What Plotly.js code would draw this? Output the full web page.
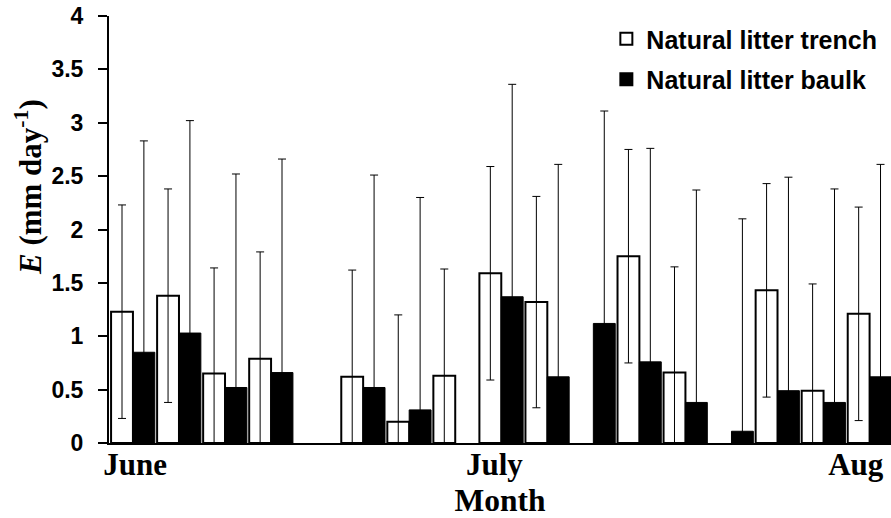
<!DOCTYPE html>
<html>
<head>
<meta charset="utf-8">
<script src="https://cdn.plot.ly/plotly-3.0.1.min.js"></script>
<style>
html, body { margin: 0; padding: 0; background: #fff; overflow: hidden; }
#chart { width: 891px; height: 518px; }
</style>
</head>
<body>
<div id="chart"></div>
<script>
// Sampling occasions (slot index along the season)
const slots = [0, 1, 2, 3, 4, 5, 6, 7, 8, 9, 10, 11, 12, 13, 14, 15, 16];

// Natural litter trench (white bars), mm/day
const trenchE   = [1.23, 1.38, 0.65, 0.79, null, 0.62, 0.20, 0.63, 1.59, 1.32, null, 1.75, 0.66, null, 1.43, 0.49, 1.21];
const trenchErr = [1.00, 1.00, 0.99, 1.00, null, 1.00, 1.00, 1.00, 1.00, 0.99, null, 1.00, 0.99, null, 1.00, 1.00, 1.00];

// Natural litter baulk (black bars), mm/day
const baulkE    = [0.85, 1.03, 0.52, 0.66, null, 0.52, 0.31, null, 1.37, 0.62, 1.12, 0.76, 0.38, 0.11, 0.49, 0.38, 0.62];
const baulkErr  = [1.98, 1.99, 2.00, 2.00, null, 1.99, 1.99, null, 1.99, 1.99, 1.99, 2.00, 1.99, 1.99, 2.00, 2.00, 1.99];

// Month tick labels
const monthLabels = ['June', 'July', 'Aug'];
const monthTickPos = [0.05, 7.85, 15.7];

const seriesNames = ['Natural litter trench', 'Natural litter baulk'];

const serif = '"Times New Roman", "Liberation Serif", serif';
const sans = 'Arial, "Liberation Sans", sans-serif';

const traces = [
  {
    type: 'bar',
    name: seriesNames[0],
    legendgroup: 'trench',
    x: slots,
    y: trenchE,
    marker: { color: '#ffffff', line: { color: '#000000', width: 2 } },
    error_y: { type: 'data', array: trenchErr, symmetric: true, color: '#000000', thickness: 1, width: 4 }
  },
  {
    type: 'bar',
    name: seriesNames[1],
    legendgroup: 'baulk',
    x: slots,
    y: baulkE,
    marker: { color: '#000000', line: { color: '#000000', width: 1 } },
    error_y: { type: 'data', array: baulkErr, symmetric: true, color: '#000000', thickness: 1, width: 4 }
  }
];

const layout = {
  width: 891,
  height: 518,
  margin: { l: 109, r: 0, t: 16, b: 75, pad: 0 },
  paper_bgcolor: '#ffffff',
  plot_bgcolor: '#ffffff',
  barmode: 'group',
  bargap: 0.05,
  bargroupgap: 0,
  showlegend: true,
  legend: {
    x: 0.636, xanchor: 'left',
    y: 1.0, yanchor: 'top',
    font: { family: sans, size: 25, color: '#000000', weight: 'bold' },
    bgcolor: 'rgba(0,0,0,0)',
    tracegroupgap: 5,
    itemsizing: 'constant'
  },
  xaxis: {
    range: [-0.52, 16.465],
    showgrid: false,
    zeroline: false,
    showline: true,
    linecolor: '#000000',
    linewidth: 2,
    ticks: '',
    tickmode: 'array',
    tickvals: monthTickPos,
    ticktext: monthLabels,
    ticklabelstandoff: -7,
    tickfont: { family: serif, size: 31, color: '#000000', weight: 'bold' },
    title: { text: 'Month', font: { family: serif, size: 31.5, color: '#000000', weight: 'bold' }, standoff: 11 }
  },
  yaxis: {
    range: [0, 4],
    tickmode: 'array',
    tickvals: [0, 0.5, 1, 1.5, 2, 2.5, 3, 3.5, 4],
    ticktext: ['0', '0.5', '1', '1.5', '2', '2.5', '3', '3.5', '4'],
    showgrid: false,
    zeroline: false,
    showline: true,
    linecolor: '#000000',
    linewidth: 2,
    ticks: 'outside',
    ticklen: 9,
    tickwidth: 2,
    tickcolor: '#000000',
    ticklabelstandoff: 10,
    tickfont: { family: sans, size: 23, color: '#000000', weight: 'bold' }
  },
  annotations: [
    {
      text: '<i>E</i> (mm day<sup>-1</sup>)',
      xref: 'paper', yref: 'paper',
      x: -0.102, y: 0.60,
      xanchor: 'center', yanchor: 'middle',
      textangle: -90,
      showarrow: false,
      font: { family: serif, size: 31, color: '#000000', weight: 'bold' }
    }
  ]
};

Plotly.newPlot('chart', traces, layout, { displayModeBar: false, staticPlot: true });
</script>
</body>
</html>
